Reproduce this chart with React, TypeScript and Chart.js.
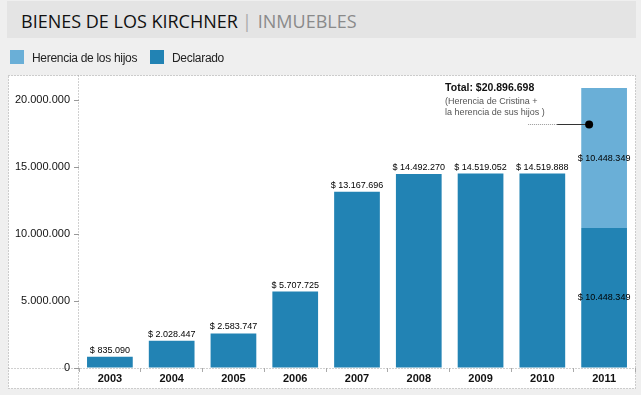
import React, { useEffect, useRef } from "react";
import { Chart, registerables } from "chart.js";

Chart.register(...registerables);

const years = ["2003", "2004", "2005", "2006", "2007", "2008", "2009", "2010", "2011"];
const declarado = [835090, 2028447, 2583747, 5707725, 13167696, 14492270, 14519052, 14519888, 10448349];
const herencia = [null, null, null, null, null, null, null, null, 10448349];
const yTicks = [0, 5000000, 10000000, 15000000, 20000000];
const yMax = 21800000;
const titleMain = "BIENES DE LOS KIRCHNER";
const titleSub = "INMUEBLES";
const seriesNames = ["Declarado", "Herencia de los hijos"];
const totalLabel = "Total: $20.896.698";
const noteLines = ["(Herencia de Cristina +", "la herencia de sus hijos )"];

const C_DECL = "#2283b4";
const C_HER = "#6aafd7";
const FONT = "'Liberation Sans', Arial, sans-serif";

function fmt(n: number): string {
  return String(Math.round(n)).replace(/\B(?=(\d{3})+(?!\d))/g, ".");
}

const panelPlugin = {
  id: "panel",
  beforeDraw(chart: any) {
    const { ctx, chartArea } = chart;
    const left = 8.5;
    const top = chartArea.top - 0.5;
    const right = chartArea.right + 0.5;
    const bottom = chartArea.bottom + 20.5;
    ctx.save();
    ctx.fillStyle = "#ffffff";
    ctx.fillRect(left, top, right - left, bottom - top);
    ctx.strokeStyle = "#a0a0a0";
    ctx.lineWidth = 1;
    ctx.setLineDash([1, 2]);
    ctx.strokeRect(left, top, right - left, bottom - top);
    ctx.beginPath();
    ctx.moveTo(Math.round(chartArea.left) - 0.5, top);
    ctx.lineTo(Math.round(chartArea.left) - 0.5, bottom);
    ctx.moveTo(left, Math.round(chartArea.bottom) + 0.5);
    ctx.lineTo(right, Math.round(chartArea.bottom) + 0.5);
    ctx.stroke();
    ctx.restore();
  },
};

const labelPlugin = {
  id: "barLabels",
  afterDatasetsDraw(chart: any) {
    const { ctx } = chart;
    const m0 = chart.getDatasetMeta(0);
    const m1 = chart.getDatasetMeta(1);
    ctx.save();
    ctx.font = `9px ${FONT}`;
    ctx.fillStyle = "#000";
    ctx.textAlign = "center";
    years.forEach((_, i) => {
      const b0 = m0.data[i];
      const h = herencia[i];
      if (h != null) {
        const b1 = m1.data[i];
        ctx.textBaseline = "middle";
        ctx.fillText("$ " + fmt(declarado[i]), b0.x, (b0.y + b0.base) / 2);
        ctx.fillText("$ " + fmt(h), b1.x, (b1.y + b1.base) / 2);
        // annotation
        const topY = b1.y;
        const tx = b1.x - 159;
        ctx.textAlign = "left";
        ctx.font = `bold 10.5px ${FONT}`;
        ctx.fillStyle = "#111";
        ctx.fillText(totalLabel, tx, topY);
        ctx.font = `9px ${FONT}`;
        ctx.fillStyle = "#555";
        noteLines.forEach((t, k) => ctx.fillText(t, tx, topY + 13 + k * 11));
        const dy = Math.round(topY + 36) + 0.5;
        const dx = b1.x - 15;
        ctx.strokeStyle = "#999";
        ctx.lineWidth = 1;
        ctx.setLineDash([1, 1]);
        ctx.beginPath();
        ctx.moveTo(tx + 83, dy);
        ctx.lineTo(tx + 112, dy);
        ctx.stroke();
        ctx.setLineDash([]);
        ctx.strokeStyle = "#333";
        ctx.beginPath();
        ctx.moveTo(tx + 112, dy);
        ctx.lineTo(dx, dy);
        ctx.stroke();
        ctx.fillStyle = "#000";
        ctx.beginPath();
        ctx.arc(dx, dy, 4, 0, Math.PI * 2);
        ctx.fill();
        ctx.textAlign = "center";
        ctx.fillStyle = "#000";
        ctx.font = `9px ${FONT}`;
      } else {
        ctx.textBaseline = "alphabetic";
        ctx.fillText("$ " + fmt(declarado[i]), b0.x, b0.y - 4);
      }
    });
    ctx.restore();
  },
};

export default function App() {
  const ref = useRef<HTMLCanvasElement>(null);

  useEffect(() => {
    if (!ref.current) return;
    const chart = new Chart(ref.current, {
      type: "bar",
      data: {
        labels: years,
        datasets: [
          {
            label: seriesNames[0],
            data: declarado,
            backgroundColor: C_DECL,
            borderWidth: 0,
            categoryPercentage: 1,
            barPercentage: 0.74,
          },
          {
            label: seriesNames[1],
            data: herencia as any,
            backgroundColor: C_HER,
            borderWidth: 0,
            categoryPercentage: 1,
            barPercentage: 0.74,
          },
        ],
      },
      options: {
        responsive: false,
        devicePixelRatio: 1,
        animation: false,
        layout: { padding: { top: 76, right: 6, bottom: 0, left: 0 } },
        plugins: {
          legend: { display: false },
          title: { display: false },
          tooltip: { enabled: false },
        },
        scales: {
          x: {
            stacked: true,
            grid: { display: true, drawOnChartArea: false, tickLength: 4, color: "#aaa", offset: true },
            border: { display: false },
            ticks: { color: "#111", padding: 0, font: { family: FONT, size: 11, weight: "bold" } },
            afterFit: (s: any) => {
              s.height = 27;
            },
          },
          y: {
            stacked: true,
            min: 0,
            max: yMax,
            grid: { display: true, drawOnChartArea: false, tickLength: 5, color: "#999" },
            border: { display: false },
            afterBuildTicks: (s: any) => {
              s.ticks = yTicks.map((v) => ({ value: v }));
            },
            ticks: {
              color: "#111",
              padding: 4,
              font: { family: FONT, size: 11 },
              callback: (v: any) => fmt(Number(v)),
            },
            afterFit: (s: any) => {
              s.width = 79;
            },
          },
        },
      },
      plugins: [panelPlugin, labelPlugin],
    });
    return () => chart.destroy();
  }, []);

  const legendText: React.CSSProperties = {
    position: "absolute",
    top: 52,
    font: `12px ${FONT}`,
    lineHeight: "12px",
    color: "#222",
    letterSpacing: "-0.3px",
    whiteSpace: "nowrap",
  };

  return (
    <div
      style={{
        position: "fixed",
        left: 0,
        top: 0,
        width: 641,
        height: 395,
        background: "#efefef",
        overflow: "hidden",
      }}
    >
      <canvas ref={ref} width={641} height={395} style={{ position: "absolute", left: 0, top: 0, width: 641, height: 395 }} />
      <div style={{ position: "absolute", left: 7, top: 1, width: 629, height: 37, background: "#e4e4e4" }} />
      <div
        style={{
          position: "absolute",
          left: 21,
          top: 12,
          font: "18px 'Open Sans', sans-serif",
          lineHeight: "18px",
          whiteSpace: "nowrap",
        }}
      >
        <span style={{ color: "#111" }}>{titleMain}</span>
        <span style={{ color: "#aaa", margin: "0 6px 0 4px" }}>|</span>
        <span style={{ color: "#8a8a8a" }}>{titleSub}</span>
      </div>
      <div style={{ position: "absolute", left: 10, top: 50, width: 14, height: 14, background: C_HER }} />
      <div style={{ ...legendText, left: 32 }}>{seriesNames[1]}</div>
      <div style={{ position: "absolute", left: 150, top: 50, width: 14, height: 14, background: C_DECL }} />
      <div style={{ ...legendText, left: 172 }}>{seriesNames[0]}</div>
    </div>
  );
}
